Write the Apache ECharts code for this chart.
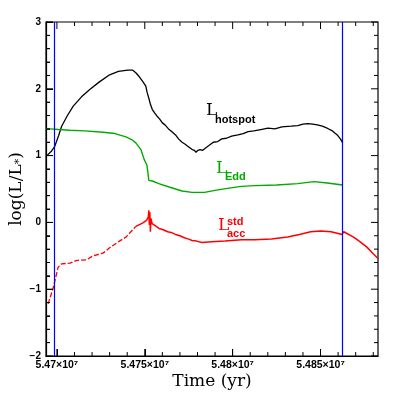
<!DOCTYPE html>
<html>
<head>
    <meta charset="utf-8">
    <title>log(L/L*) vs Time</title>
    <script src="https://cdn.jsdelivr.net/npm/echarts@6/dist/echarts.min.js"></script>
    <style>
        html, body { margin: 0; padding: 0; background: #fff; }
        #chart { width: 399px; height: 399px; }
    </style>
</head>
<body>
<div id="chart"></div>
<script type="text/javascript">
    // axis ranges (years, log L)
    var xMin = 54693800, xMax = 54882700;
    var yMin = -2, yMax = 3;
    var xMajorTicks = [54700000, 54750000, 54800000, 54850000];
    var xMinorTicks = [];
    for (var t = 54700000; t <= 54880000; t += 10000) xMinorTicks.push(t);
    var yAllTicks = [];
    for (var i = -10; i <= 15; i++) yAllTicks.push(i / 5);

    // vertical blue markers
    var blueLines = [54698700, 54862500];

    // L_hotspot (black)
    var hotspot = [
        [54694300, 1.00], [54695200, 1.02], [54697000, 1.07], [54698800, 1.14],
        [54701000, 1.30], [54702700, 1.44], [54706000, 1.60], [54709300, 1.74],
        [54714000, 1.88], [54718700, 1.99], [54724000, 2.10], [54730000, 2.21],
        [54735000, 2.26], [54740300, 2.28], [54741200, 2.30], [54743000, 2.28],
        [54744900, 2.24], [54746900, 2.18], [54748800, 2.11], [54750600, 2.04],
        [54751300, 1.95], [54751800, 1.97], [54752500, 1.84], [54753300, 1.76],
        [54754300, 1.69], [54755600, 1.64], [54757000, 1.59], [54758400, 1.55],
        [54760000, 1.49], [54761500, 1.46], [54763500, 1.40], [54765300, 1.36],
        [54767500, 1.31], [54769200, 1.25], [54771200, 1.20], [54773000, 1.17],
        [54775000, 1.13], [54777000, 1.09], [54778300, 1.08], [54779100, 1.05],
        [54780300, 1.08], [54781500, 1.09], [54783000, 1.08], [54784400, 1.11],
        [54786500, 1.15], [54789000, 1.20], [54791500, 1.21], [54793800, 1.25],
        [54796500, 1.26], [54799400, 1.29], [54803000, 1.31], [54806000, 1.33],
        [54808800, 1.36], [54812000, 1.37], [54816000, 1.39], [54820100, 1.41],
        [54824000, 1.40], [54828000, 1.43], [54833200, 1.44], [54837000, 1.45],
        [54840000, 1.47], [54842600, 1.48], [54845500, 1.47], [54848200, 1.46],
        [54851000, 1.44], [54853800, 1.41], [54856800, 1.37], [54859500, 1.31],
        [54861300, 1.25], [54862600, 1.19]
    ];

    // L_Edd (green)
    var edd = [
        [54693800, 1.40], [54696200, 1.40], [54701000, 1.39], [54707400, 1.38],
        [54716000, 1.37], [54726200, 1.35], [54733000, 1.33], [54739300, 1.28],
        [54742500, 1.24], [54744900, 1.19], [54747800, 1.09], [54749700, 0.94],
        [54751200, 0.86], [54751900, 0.72], [54752300, 0.63], [54754300, 0.62],
        [54758000, 0.58], [54763800, 0.53], [54771200, 0.47], [54776900, 0.45],
        [54784000, 0.45], [54790000, 0.48], [54797000, 0.51], [54805000, 0.54],
        [54812500, 0.55], [54825000, 0.56], [54837000, 0.58], [54846300, 0.61],
        [54853800, 0.59], [54862600, 0.56]
    ];

    // L_acc^std (red), dashed early part and solid later part
    var accEarly = [
        [54695000, -1.22], [54697800, -0.99], [54698900, -0.87], [54700700, -0.67],
        [54702700, -0.62], [54707400, -0.61], [54711200, -0.57], [54716800, -0.56],
        [54720600, -0.50], [54726200, -0.46], [54730000, -0.38], [54735600, -0.28],
        [54739300, -0.22], [54744900, -0.06]
    ];
    var accLate = [
        [54744900, -0.06], [54748700, -0.01], [54751000, 0.03], [54752000, 0.08],
        [54752300, 0.18], [54752600, -0.04], [54752900, 0.15], [54753200, -0.14],
        [54753500, 0.06], [54754200, -0.02], [54755000, -0.03], [54756500, -0.06],
        [54758100, -0.09], [54760500, -0.11], [54763000, -0.14], [54765000, -0.15],
        [54767500, -0.18], [54770000, -0.20], [54772500, -0.23], [54775000, -0.25],
        [54776900, -0.27], [54779500, -0.28], [54782500, -0.30], [54788000, -0.29],
        [54795600, -0.28], [54805000, -0.26], [54812500, -0.26], [54822000, -0.25],
        [54831300, -0.22], [54838000, -0.18], [54844400, -0.14], [54850100, -0.13],
        [54856000, -0.14], [54862300, -0.18], [54863200, -0.14], [54868800, -0.22],
        [54872000, -0.28], [54876400, -0.37], [54880000, -0.47], [54882700, -0.54]
    ];

    var myChart = echarts.init(document.getElementById('chart'));

    var hiddenSplit = { show: true, lineStyle: { color: 'rgba(0,0,0,0)' } };
    var tickStyle = { stroke: '#000', lineWidth: 1 };

    function seg(x1, y1, x2, y2) {
        return { type: 'line', shape: { x1: x1, y1: y1, x2: x2, y2: y2 }, style: tickStyle };
    }

    // inward ticks on the top and right sides, placed with the axis scales
    function renderXTick(params, api) {
        var v = api.value(0);
        var len = xMajorTicks.indexOf(v) >= 0 ? 7 : 4;
        var b = api.coord([v, yMin]);
        var tp = api.coord([v, yMax]);
        return { type: 'group', children: [seg(b[0], b[1], b[0], b[1] - len), seg(tp[0], tp[1], tp[0], tp[1] + len)] };
    }
    function renderYTick(params, api) {
        var v = api.value(1);
        var len = Math.abs(v - Math.round(v)) < 1e-6 ? 7 : 4;
        var l = api.coord([xMin, v]);
        var r = api.coord([xMax, v]);
        return { type: 'group', children: [seg(l[0], l[1], l[0] + len, l[1]), seg(r[0], r[1], r[0] - len, r[1])] };
    }

    var option = {
        animation: false,
        grid: {
            left: 43, right: 21, top: 22, bottom: 43,
            show: true, borderColor: '#000', borderWidth: 1.2, backgroundColor: 'rgba(0,0,0,0)'
        },
        xAxis: {
            type: 'value', min: xMin, max: xMax,
            name: 'Time (yr)', nameLocation: 'middle', nameGap: 17, nameMoveOverlap: false,
            nameTextStyle: { fontFamily: 'DejaVu Serif', fontSize: 17, color: '#000' },
            axisLine: { show: true, onZero: false, lineStyle: { color: '#000', width: 1.2 } },
            axisTick: { show: true, inside: true, length: 7, customValues: xMajorTicks, lineStyle: { color: '#000', width: 1 } },
            axisLabel: {
                customValues: xMajorTicks, margin: 4,
                fontFamily: 'Liberation Sans', fontWeight: 'bold', fontSize: 10.5, color: '#000',
                formatter: function (v) { return parseFloat((v / 1e7).toFixed(4)) + '×10⁷'; }
            },
            splitLine: hiddenSplit
        },
        yAxis: {
            type: 'value', min: yMin, max: yMax, interval: 1,
            name: '{a|log(L/L}{s|*}{a|)}', nameLocation: 'middle', nameGap: 21, nameMoveOverlap: false,
            nameTextStyle: {
                rich: {
                    a: { fontFamily: 'DejaVu Serif', fontSize: 17, color: '#000' },
                    s: { fontFamily: 'DejaVu Serif', fontSize: 11, color: '#000', verticalAlign: 'bottom', padding: [6, 0, 0, 0] }
                }
            },
            axisLine: { show: true, onZero: false, lineStyle: { color: '#000', width: 1.2 } },
            axisTick: { show: true, inside: true, length: 7, lineStyle: { color: '#000', width: 1 } },
            minorTick: { show: true, splitNumber: 5, length: 4, lineStyle: { color: '#000', width: 1 } },
            axisLabel: {
                margin: 5,
                fontFamily: 'Liberation Sans', fontWeight: 'bold', fontSize: 10, color: '#000',
                formatter: function (v) { return v < 0 ? '−' + Math.abs(v) : String(v); }
            },
            splitLine: hiddenSplit
        },
        graphic: [
            { type: 'text', x: 206, y: 111, style: { text: 'L', font: '17px "DejaVu Serif"', fill: '#000', verticalAlign: 'middle' } },
            { type: 'text', x: 215, y: 120, style: { text: 'hotspot', font: 'bold 11px "Liberation Sans"', fill: '#000', verticalAlign: 'middle' } },
            { type: 'text', x: 216, y: 169, style: { text: 'L', font: '17px "DejaVu Serif"', fill: '#00aa00', verticalAlign: 'middle' } },
            { type: 'text', x: 225, y: 177, style: { text: 'Edd', font: 'bold 11px "Liberation Sans"', fill: '#00aa00', verticalAlign: 'middle' } },
            { type: 'text', x: 218, y: 226, style: { text: 'L', font: '17px "DejaVu Serif"', fill: '#ff0000', verticalAlign: 'middle' } },
            { type: 'text', x: 227, y: 222, style: { text: 'std', font: 'bold 11px "Liberation Sans"', fill: '#ff0000', verticalAlign: 'middle' } },
            { type: 'text', x: 227, y: 234, style: { text: 'acc', font: 'bold 11px "Liberation Sans"', fill: '#ff0000', verticalAlign: 'middle' } }
        ],
        series: [
            {
                name: 'Lhotspot', type: 'line', data: hotspot, showSymbol: false,
                lineStyle: { color: '#000', width: 1.3 },
                markLine: {
                    silent: true, symbol: 'none', label: { show: false },
                    lineStyle: { color: '#0000ff', width: 1.2, type: 'solid' },
                    data: blueLines.map(function (v) { return { xAxis: v }; })
                }
            },
            {
                name: 'LEdd', type: 'line', data: edd, showSymbol: false,
                lineStyle: { color: '#00aa00', width: 1.4 }
            },
            {
                name: 'Lacc early', type: 'line', data: accEarly, showSymbol: false,
                lineStyle: { color: '#ff0000', width: 1.3, type: [5, 2] }
            },
            {
                name: 'Lacc', type: 'line', data: accLate, showSymbol: false,
                lineStyle: { color: '#ff0000', width: 1.5 }
            },
            {
                name: 'xticks', type: 'custom', silent: true, clip: false, z: 5,
                data: xMinorTicks.map(function (v) { return [v, 0]; }),
                renderItem: renderXTick
            },
            {
                name: 'yticks', type: 'custom', silent: true, clip: false, z: 5,
                data: yAllTicks.map(function (v) { return [xMin, v]; }),
                renderItem: renderYTick
            }
        ]
    };

    myChart.setOption(option);
</script>
</body>
</html>
